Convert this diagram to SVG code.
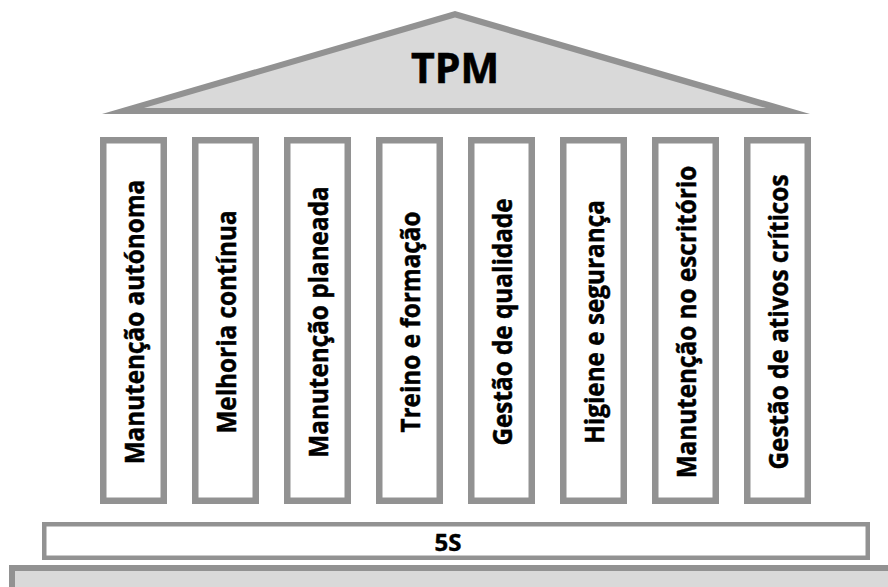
<svg xmlns="http://www.w3.org/2000/svg" width="888" height="587" viewBox="0 0 888 587">
<style>
.col{fill:#ffffff;stroke:#929292;stroke-width:6.5}
.lbl{font-family:"Open Sans","Liberation Sans",sans-serif;font-weight:bold;font-size:27px;fill:#000;stroke:#000;stroke-width:0.5;text-anchor:middle}
</style>
<rect width="888" height="587" fill="#ffffff"/>
<g id="roof">
<polygon points="102,114 455,11 810,114" fill="#929292"/>
<polygon points="144,108 455,17.5 766,108" fill="#d9d9d9"/>
<text x="455" y="83" font-family="'Open Sans','Liberation Sans',sans-serif" font-weight="bold" font-size="41" text-anchor="middle" fill="#000" stroke="#000" stroke-width="0.6">TPM</text>
</g>
<g id="pillar1"><rect class="col" x="103.25" y="140.25" width="60.5" height="360.5"/><text class="lbl" transform="translate(143.5,322) rotate(-90) scale(0.9,1)">Manutenção autónoma</text></g>
<g id="pillar2"><rect class="col" x="195.25" y="140.25" width="60.5" height="360.5"/><text class="lbl" transform="translate(235.5,322) rotate(-90) scale(0.9,1)">Melhoria contínua</text></g>
<g id="pillar3"><rect class="col" x="287.25" y="140.25" width="60.5" height="360.5"/><text class="lbl" transform="translate(327.5,322) rotate(-90) scale(0.9,1)">Manutenção planeada</text></g>
<g id="pillar4"><rect class="col" x="379.25" y="140.25" width="60.5" height="360.5"/><text class="lbl" transform="translate(419.5,322) rotate(-90) scale(0.9,1)">Treino e formação</text></g>
<g id="pillar5"><rect class="col" x="471.25" y="140.25" width="60.5" height="360.5"/><text class="lbl" transform="translate(511.5,322) rotate(-90) scale(0.9,1)">Gestão de qualidade</text></g>
<g id="pillar6"><rect class="col" x="563.25" y="140.25" width="60.5" height="360.5"/><text class="lbl" transform="translate(603.5,322) rotate(-90) scale(0.9,1)">Higiene e segurança</text></g>
<g id="pillar7"><rect class="col" x="655.25" y="140.25" width="60.5" height="360.5"/><text class="lbl" transform="translate(695.5,322) rotate(-90) scale(0.9,1)">Manutenção no escritório</text></g>
<g id="pillar8"><rect class="col" x="747.25" y="140.25" width="60.5" height="360.5"/><text class="lbl" transform="translate(787.5,322) rotate(-90) scale(0.9,1)">Gestão de ativos críticos</text></g>
<g id="base5s">
<rect x="44.25" y="524.25" width="823.5" height="33.5" fill="#ffffff" stroke="#929292" stroke-width="4.5"/>
<text x="448" y="551" font-family="'Open Sans','Liberation Sans',sans-serif" font-weight="bold" font-size="24" text-anchor="middle" fill="#000" stroke="#000" stroke-width="0.4">5S</text>
</g>
<g id="foundation">
<rect x="12" y="568" width="890" height="40" fill="#d9d9d9" stroke="#929292" stroke-width="6"/>
</g>
</svg>
